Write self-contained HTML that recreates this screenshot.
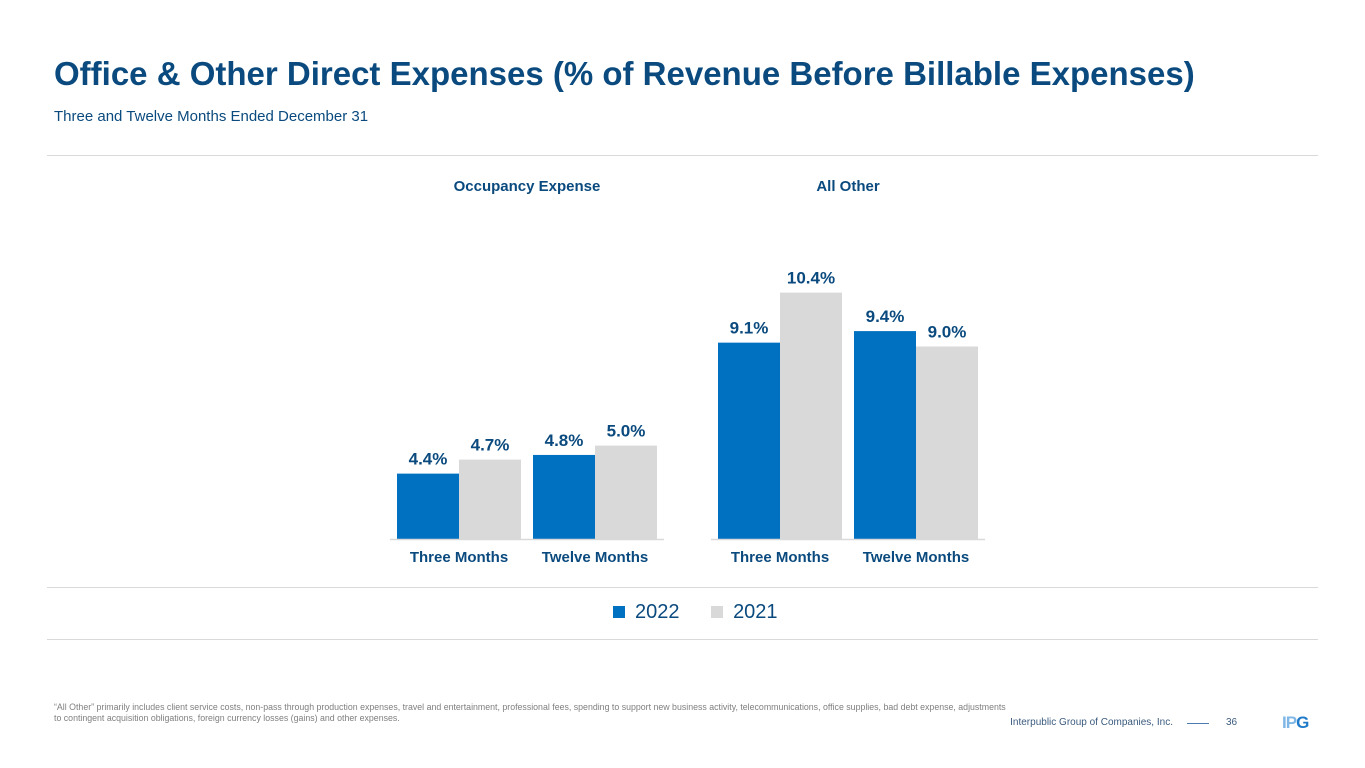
<!DOCTYPE html>
<html><head><meta charset="utf-8"><style>
body{margin:0;width:1365px;height:768px;background:#fff;font-family:"Liberation Sans",sans-serif;position:relative;overflow:hidden}
.a{position:absolute;white-space:nowrap}
</style></head><body>
<div class="a" style="left:54px;top:55px;font-size:33px;font-weight:bold;color:#0a4a7e">Office &amp; Other Direct Expenses (% of Revenue Before Billable Expenses)</div>
<div class="a" style="left:54px;top:108px;font-size:15px;color:#0a4a7e">Three and Twelve Months Ended December 31</div>
<div class="a" style="left:47px;top:155px;width:1271px;height:1px;background:#d9d9d9"></div>
<div class="a" style="left:47px;top:587px;width:1271px;height:1px;background:#d9d9d9"></div>
<div class="a" style="left:47px;top:639px;width:1271px;height:1px;background:#d9d9d9"></div>
<svg class="a" style="left:0;top:0" width="1365" height="768" id="chart"></svg>
<div class="a" style="left:613px;top:601px;font-size:20px;color:#0a4a7e">
<span><span style="display:inline-block;width:12px;height:12px;background:#0070c0;margin-right:10px"></span>2022</span>
<span style="margin-left:26px"><span style="display:inline-block;width:12px;height:12px;background:#d9d9d9;margin-right:10px"></span>2021</span>
</div>
<div class="a" style="left:54px;top:702px;font-size:8.8px;color:#7f7f7f;white-space:normal;width:960px;line-height:11px">“All Other” primarily includes client service costs, non-pass through production expenses, travel and entertainment, professional fees, spending to support new business activity, telecommunications, office supplies, bad debt expense, adjustments to contingent acquisition obligations, foreign currency losses (gains) and other expenses.</div>
<div class="a" style="right:192px;top:717px;font-size:10px;color:#3a5a7e">Interpublic Group of Companies, Inc.</div>
<div class="a" style="left:1187px;top:723px;width:22px;height:1px;background:#4a7ab0"></div>
<div class="a" style="left:1226px;top:717px;font-size:10px;color:#3a5a7e">36</div>
<div class="a" style="left:1282px;top:713px;font-size:17px;font-weight:bold;color:#1f7ac9;letter-spacing:-1px"><span style="color:#7fb7e6">I</span><span style="color:#7fb7e6">P</span>G</div>
<script>
const groups=["Occupancy Expense","All Other"];
const categories=["Three Months","Twelve Months"];
const values2022=[[4.4,4.8],[9.1,9.4]];
const values2021=[[4.7,5.0],[10.4,9.0]];
const axisMin=[3.0,4.0];
const pxPerUnit=[46.7,38.5];
const svg=document.getElementById('chart');
const NS='http://www.w3.org/2000/svg';
const base=539, groupX=[397,718], bw=62, catGap=136;
function y(g,v){return base-(v-axisMin[g])*pxPerUnit[g];}
function el(t,a){const e=document.createElementNS(NS,t);for(const k in a)e.setAttribute(k,a[k]);svg.appendChild(e);return e;}
function txt(x,yy,s,size,name){const t=el('text',{x:x,y:yy,'text-anchor':'middle','font-size':size,'font-weight':'bold',fill:'#0a4a7e','font-family':'Liberation Sans, sans-serif'});t.textContent=s;

return t;}
groups.forEach((gn,g)=>{
 const gx=groupX[g];
 txt(gx+130,191,gn,15,'group-title-'+g);
 categories.forEach((c,i)=>{
  const x=gx+i*catGap;
  [[values2022,'#0070c0','2022'],[values2021,'#d9d9d9','2021']].forEach(([arr,col,yr],k)=>{
   const v=arr[g][i], top=y(g,v);
   const r=el('rect',{x:x+k*bw,y:top,width:bw,height:base-top,fill:col});
   
   
   txt(x+k*bw+bw/2,top-9,v.toFixed(1)+'%',17,'value-label');
  });
  txt(x+bw,562,c,15,'category-label');
 });
 const l=el('line',{x1:gx-7,x2:gx+2*catGap-5,y1:base+0.5,y2:base+0.5,stroke:'#d9d9d9','stroke-width':1.5});
 
 
});
</script>
</body></html>
